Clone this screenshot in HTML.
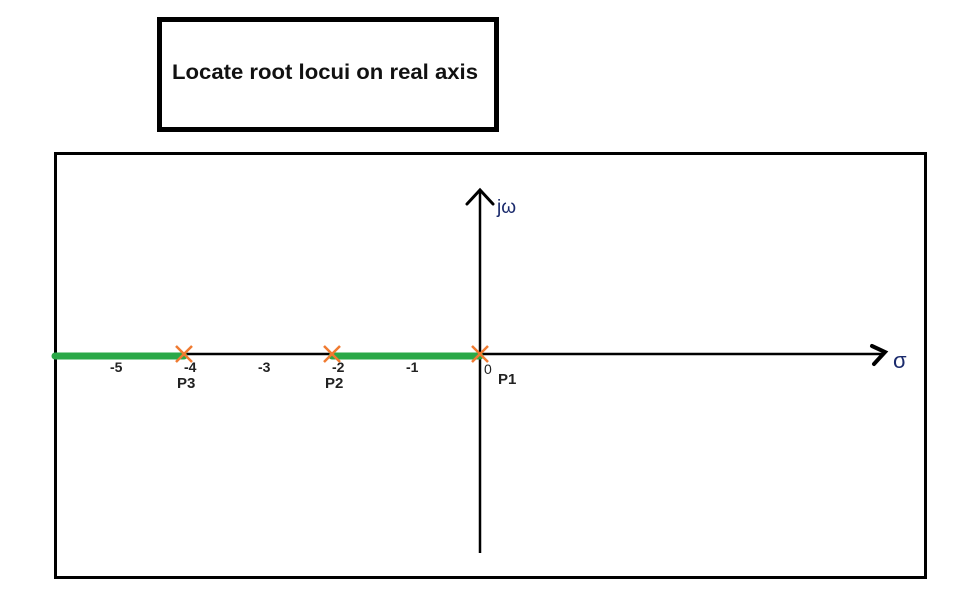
<!DOCTYPE html>
<html><head><meta charset="utf-8"><style>
body{margin:0;background:#fff;width:977px;height:612px;overflow:hidden}
svg{display:block;font-family:"Liberation Sans",sans-serif}
</style></head><body>
<svg id="chart" width="977" height="612">
<rect x="159.5" y="19.5" width="337" height="110" fill="#fff" stroke="#000" stroke-width="5"/>
<text x="172" y="79" font-size="21" font-weight="bold" fill="#111" textLength="306" lengthAdjust="spacingAndGlyphs">Locate root locui on real axis</text>
<rect x="55.5" y="153.5" width="870" height="424" fill="none" stroke="#000" stroke-width="3"/>
<g id="plot"></g>
</svg>
<script>
const tickValues = [-5, -4, -3, -2, -1, 0];
const tickLabels = ["-5", "-4", "-3", "-2", "-1", "0"];
const poleValues = [0, -2, -4];
const poleNames = ["P1", "P2", "P3"];
const locusStart = [-4, 0];
const locusEnd = [-6, -2];
const X0 = 480, UNIT = 74, Y0 = 354;
function xs(v){ return X0 + v*UNIT; }
const NS = "http://www.w3.org/2000/svg";
const g = document.getElementById('plot');
function mk(tag, attrs){ const e=document.createElementNS(NS,tag); for(const k in attrs) e.setAttribute(k,attrs[k]); g.appendChild(e); return e; }
let e;
e = mk('line',{x1:55,y1:Y0,x2:884,y2:Y0,stroke:'#000','stroke-width':2.5});


e = mk('path',{d:'M872 346 L885 352 L874 364',fill:'none',stroke:'#000','stroke-width':4,'stroke-linecap':'round'});


e = mk('line',{x1:X0,y1:190,x2:X0,y2:553,stroke:'#000','stroke-width':2.5});


e = mk('path',{d:'M467 204 L480 190 L493 204',fill:'none',stroke:'#000','stroke-width':3,'stroke-linecap':'round'});


e = mk('text',{x:497,y:213,'font-size':19,fill:'#1a2a6c'}); e.textContent='jω';


e = mk('text',{x:893,y:368,'font-size':22,fill:'#1a2a6c'}); e.textContent='σ';


for(let i=0;i<locusStart.length;i++){
  const a = Math.max(xs(locusEnd[i]),55), b = xs(locusStart[i]);
  e = mk('line',{x1:a,y1:Y0+2,x2:b,y2:Y0+2,stroke:'#2aa847','stroke-width':7,'stroke-linecap':'round'});
  
  
}
tickValues.forEach((v,i)=>{
  e = mk('text',{x:xs(v)+(v===0?4:0),y:Y0+(v===0?20:18),'font-size':14,'font-weight':v===0?'normal':'bold','text-anchor':'start',fill:'#222'});
  e.textContent = tickLabels[i];
  
  
});
poleValues.forEach((v,i)=>{
  const x = xs(v);
  e = mk('path',{d:`M${x-8} ${Y0-8} L${x+8} ${Y0+8} M${x+8} ${Y0-8} L${x-8} ${Y0+8}`,stroke:'#f07a30','stroke-width':2.5});
  
  
  e = mk('text',{x:x+(v===0?18:-7),y:Y0+(v===0?30:34),'font-size':15,'font-weight':'bold',fill:'#222'});
  e.textContent = poleNames[i];
  
  
});
</script>
</body></html>
